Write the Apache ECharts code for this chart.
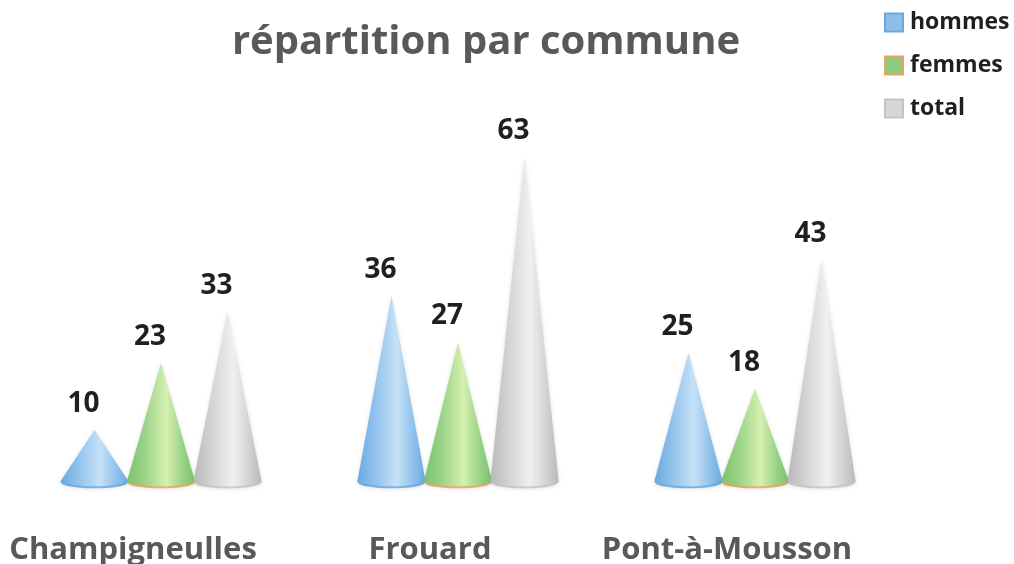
<!DOCTYPE html>
<html>
<head>
<meta charset="utf-8">
<style>
  html, body { margin: 0; padding: 0; background: #fff; }
  #main { width: 1014px; height: 564px; }
</style>
<script src="https://cdn.jsdelivr.net/npm/echarts@6/dist/echarts.min.js"></script>
</head>
<body>
<div id="main"></div>
<script>
const categories = ['Champigneulles', 'Frouard', 'Pont-à-Mousson'];
const hommes = [10, 36, 25];
const femmes = [23, 27, 18];
const total = [33, 63, 43];

const chart = echarts.init(document.getElementById('main'));

// cone drawn from the axis coords, base is a flat ellipse
function cone(slot, colors, edge) {
  return function (params, api) {
    const top = api.coord([api.value(0), api.value(1)]);
    const base = api.coord([api.value(0), 0]);
    const band = api.size([1, 0])[0];
    const cx = base[0] + slot * band * 0.224;
    const hw = band * 0.115;
    const ry = 6.5;
    const y0 = base[1];
    const d = 'M' + (cx - hw) + ' ' + y0 + ' L' + cx + ' ' + top[1] + ' L' + (cx + hw) + ' ' + y0 +
      ' A' + hw + ' ' + ry + ' 0 0 1 ' + (cx - hw) + ' ' + y0 + ' Z';
    const arc = 'M' + (cx - hw + 2) + ' ' + (y0 + 1.5) + ' A' + hw + ' ' + ry + ' 0 0 0 ' + (cx + hw - 2) + ' ' + (y0 + 1.5);
    return {
      type: 'group',
      children: [
        {
          type: 'path',
          shape: { pathData: d },
          style: {
            fill: new echarts.graphic.LinearGradient(0, 0, 1, 0, [
              { offset: 0, color: colors[0] },
              { offset: 0.25, color: colors[1] },
              { offset: 0.58, color: colors[2] },
              { offset: 0.82, color: colors[1] },
              { offset: 1, color: colors[0] }
            ]),
            shadowBlur: 4,
            shadowColor: 'rgba(0,0,0,0.12)',
            shadowOffsetY: 1
          }
        },
        {
          type: 'path',
          shape: { pathData: arc },
          style: { fill: 'none', stroke: edge, lineWidth: 2, opacity: 0.8 }
        },
        {
          type: 'text',
          x: cx - 11,
          y: top[1] - 26,
          style: {
            text: String(api.value(1)),
            align: 'center',
            verticalAlign: 'middle',
            font: 'bold 28px "Open Sans"',
            fill: '#1f1f1f'
          }
        }
      ]
    };
  };
}

function makeSeries(name, values, slot, colors, edge, swatch) {
  return {
    name: name,
    type: 'custom',
    renderItem: cone(slot, colors, edge),
    encode: { x: 0, y: 1 },
    itemStyle: { color: swatch, borderColor: edge, borderWidth: 3 },
    clip: false,
    data: values.map((v, i) => [i, v])
  };
}

chart.setOption({
  animation: false,
  backgroundColor: '#fff',
  title: {
    text: 'répartition par commune',
    left: 481,
    top: 18,
    textAlign: 'center',
    textStyle: { fontFamily: 'Open Sans', fontWeight: 'bold', fontSize: 40, color: '#595959' }
  },
  legend: {
    orient: 'vertical',
    left: 879,
    top: 6,
    itemWidth: 18,
    itemHeight: 18,
    itemGap: 20,
    icon: 'rect',
    textStyle: { fontFamily: 'Open Sans', fontWeight: 'bold', fontSize: 23, lineHeight: 22, color: '#1f1f1f', padding: [0, 0, 0, 2] },
    data: ['hommes', 'femmes', 'total']
  },
  grid: { left: 12.5, right: 110.5, top: 121, bottom: 82.5, outerBoundsMode: 'none' },
  xAxis: {
    type: 'category',
    data: categories,
    axisLine: { show: false },
    axisTick: { show: false },
    axisLabel: {
      margin: 53,
      padding: [0, 56, 0, 0],
      interval: 0,
      fontFamily: 'Open Sans',
      fontWeight: 'bold',
      fontSize: 31,
      color: '#595959'
    }
  },
  yAxis: { type: 'value', min: 0, max: 70, show: false },
  series: [
    makeSeries('hommes', hommes, -1, ['#6aa9e0', '#8fc1ec', '#c6e1f7'], '#6aa9e0', '#8fbfe8'),
    makeSeries('femmes', femmes, 0, ['#7cc26e', '#98d286', '#d5f0b0'], '#f0a15f', '#8ccb7e'),
    makeSeries('total', total, 1, ['#b8b8b8', '#d2d2d2', '#f0f0f0'], '#c4c4c4', '#d6d6d6')
  ]
});
</script>
</body>
</html>
